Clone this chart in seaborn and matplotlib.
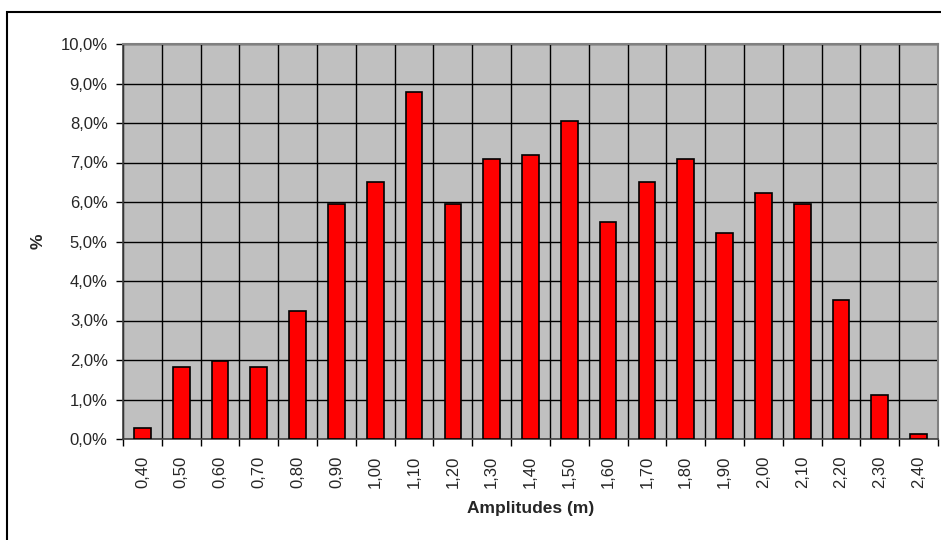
import matplotlib
matplotlib.use('Agg')
import matplotlib.pyplot as plt
import matplotlib.patches as mpatches
from matplotlib.ticker import FixedLocator, FuncFormatter
import seaborn as sns
import pandas as pd

amplitudes = ['0,40', '0,50', '0,60', '0,70', '0,80', '0,90', '1,00', '1,10', '1,20', '1,30', '1,40',
              '1,50', '1,60', '1,70', '1,80', '1,90', '2,00', '2,10', '2,20', '2,30', '2,40']
percent = [0.28, 1.83, 1.98, 1.83, 3.23, 5.95, 6.51, 8.78, 5.95, 7.09, 7.20,
           8.06, 5.49, 6.51, 7.09, 5.22, 6.23, 5.95, 3.53, 1.12, 0.12]

df = pd.DataFrame({'amp': amplitudes, 'pct': percent})

sns.set_style('white')
plt.rcParams['font.family'] = ['Liberation Sans', 'DejaVu Sans']

fig = plt.figure(figsize=(9.41, 5.40), dpi=100)
ax = fig.add_axes([123 / 941, 1 - 439 / 540, (938 - 123) / 941, (439 - 44) / 540])
ax.set_facecolor('#c0c0c0')

sns.barplot(data=df, x='amp', y='pct', color='red', saturation=1, width=0.43,
            edgecolor='black', linewidth=1.2, ax=ax, zorder=3)

n = len(amplitudes)
ax.set_xlim(-0.5, n - 0.5)
ax.set_ylim(0, 10)
ax.set_yticks(range(0, 11))
ax.yaxis.set_major_formatter(FuncFormatter(lambda v, p: f'{v:.1f}%'.replace('.', ',')))
ax.xaxis.set_minor_locator(FixedLocator([i - 0.5 for i in range(n + 1)]))
ax.tick_params(axis='x', which='major', length=0, pad=12, labelrotation=90, labelsize=12)
ax.tick_params(axis='x', which='minor', length=5, width=1, color='black', direction='out', bottom=True)
ax.tick_params(axis='y', length=5, width=1, color='black', direction='out', left=True, pad=6, labelsize=12)

ax.grid(False)
ax.yaxis.grid(True, which='major', color='black', linewidth=1)
ax.xaxis.grid(True, which='minor', color='black', linewidth=1)
ax.set_axisbelow(True)

for side in ['top', 'right']:
    ax.spines[side].set_color('#808080')
    ax.spines[side].set_linewidth(1.5)
for side in ['left', 'bottom']:
    ax.spines[side].set_color('#404040')
    ax.spines[side].set_linewidth(1.2)

ax.set_xlabel('Amplitudes (m)', fontsize=12.5, fontweight='bold', labelpad=9)
ax.set_ylabel('%', fontsize=12.5, fontweight='bold', labelpad=11)

fig.patches.append(mpatches.Rectangle((7 / 941, -0.05), 1.0, (540 - 12) / 540 + 0.05,
                                      transform=fig.transFigure, fill=False,
                                      edgecolor='black', linewidth=1.5))

fig.savefig('out.png', dpi=100)
